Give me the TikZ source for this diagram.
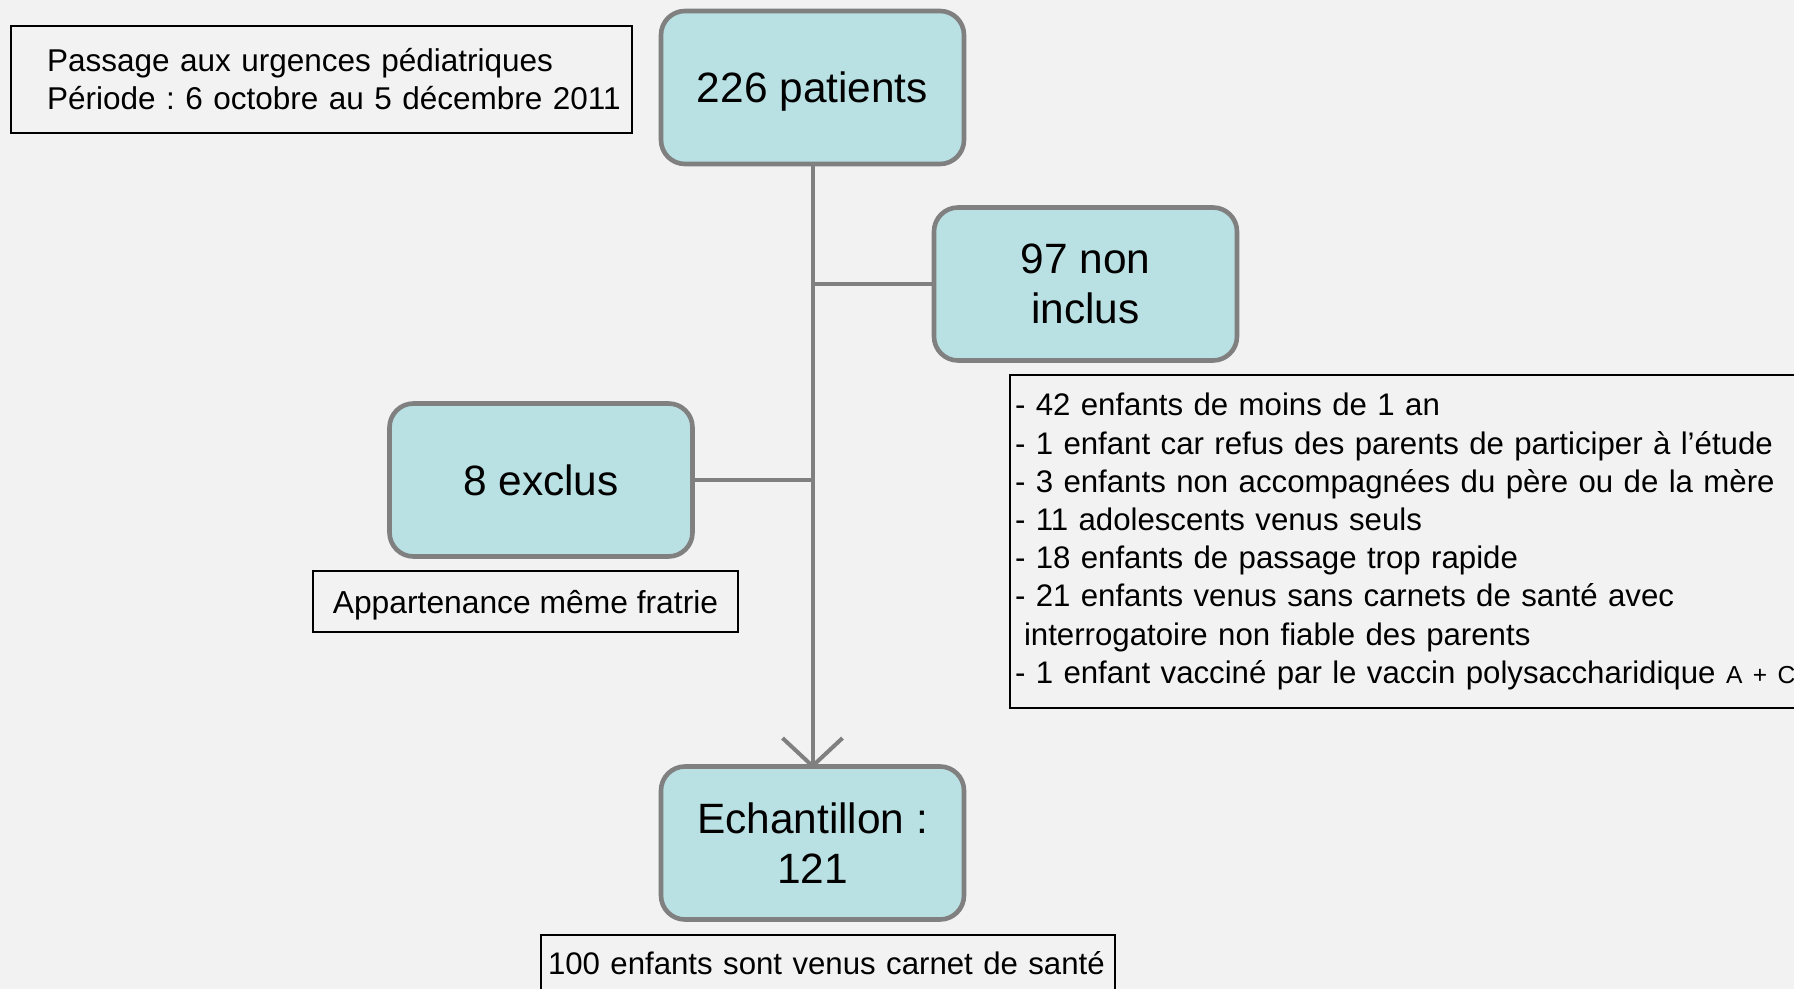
\documentclass[tikz,border=0pt]{standalone}
\usepackage{fontspec}
\setmainfont{Liberation Sans}
\usetikzlibrary{arrows.meta}
\definecolor{bgcol}{HTML}{F2F2F2}
\definecolor{boxfill}{HTML}{B9E0E3}
\definecolor{boxline}{HTML}{808080}
\frenchspacing
\hbadness=10000 \hfuzz=50pt
\tikzset{
  flowbox/.style={draw=boxline, line width=2.3pt, fill=boxfill, rounded corners=12pt,
    minimum width=151.5pt, minimum height=76.5pt, align=center, inner sep=2pt,
    font=\fontsize{21.2}{25}\selectfont},
  notebox/.style={draw=black, line width=1pt, fill=bgcol, inner sep=0pt,
    font=\fontsize{15.6}{19}\selectfont},
  link/.style={draw=boxline, line width=2pt},
}
\begin{document}
\begin{tikzpicture}[x=0.5pt,y=-0.5pt]
\path[use as bounding box] (0,0) rectangle (1794,989);
\fill[bgcol] (0,0) rectangle (1794,989);
\clip (0,0) rectangle (1794,989);

\node[notebox, minimum height=53.5pt, text width=310.5pt, inner xsep=0pt,
  align=left, font=\fontsize{15.75}{19}\selectfont] (info) at (321.5,79.5)
  {\hspace*{18pt}Passage aux urgences pédiatriques\\\hspace*{18pt}Période : 6 octobre au 5 décembre 2011};

\node[flowbox, text depth=0pt] (pat) at (812.5,87.5) {226 patients};
\node[flowbox] (noninc) at (1085.5,284) {97 non\\inclus};
\node[flowbox] (excl) at (541,480) {8 exclus};
\node[flowbox] (ech) at (812.5,843) {Echantillon :\\121};

\node[notebox, anchor=north west, minimum height=166.5pt, text width=405.5pt,
  inner xsep=2.5pt, align=left, font=\fontsize{15.6}{19.1}\selectfont] (list) at (1009,374)
  {- 42 enfants de moins de 1 an\\
   - 1 enfant car refus des parents de participer à l’étude\\
   - 3 enfants non accompagnées du père ou de la mère\\
   - 11 adolescents venus seuls\\
   - 18 enfants de passage trop rapide\\
   - 21 enfants venus sans carnets de santé avec\\
   \hspace*{4.5pt}interrogatoire non fiable des parents\\
   - 1 enfant vacciné par le vaccin polysaccharidique {\fontsize{12.3}{15}\selectfont A + C}};

\node[notebox, minimum width=212.5pt, minimum height=30.5pt, text depth=0pt,
  font=\fontsize{15.9}{19}\selectfont] (frat) at (525.5,601.5)
  {Appartenance même fratrie};

\node[notebox, anchor=west, text width=280pt, minimum height=28pt,
  inner xsep=3.5pt, align=left, font=\fontsize{15.6}{19}\selectfont] (carnet) at (540,963)
  {\mbox{100 enfants sont venus carnet de santé}};

\draw[link, shorten >=-2.3pt, -{Straight Barb[length=14pt,width=30pt,line width=2pt]}] (pat.south) -- (ech.north);
\draw[link] (noninc.west) -- (noninc.west -| pat.south);
\draw[link] (excl.east) -- (excl.east -| pat.south);
\end{tikzpicture}
\end{document}
